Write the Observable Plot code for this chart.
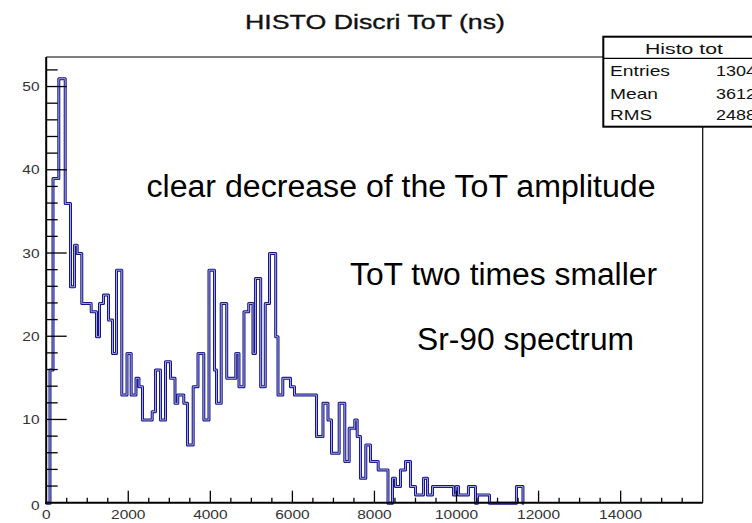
<!DOCTYPE html>
<html><head><meta charset="utf-8">
<script src="https://cdn.jsdelivr.net/npm/d3@7"></script>
<script src="https://cdn.jsdelivr.net/npm/@observablehq/plot@0.6"></script>
<style>
html,body{margin:0;padding:0;background:#fff;overflow:hidden;}
svg text{font-family:"Liberation Sans",Arial,Helvetica,sans-serif;}
</style></head><body><div id="chart"></div>
<script>
// histogram steps: left edge (ns) and count of each step
const binEdges = [80,154,295,451,580,677,743,855,1084,1214,1287,1384,1506,1604,1701,1830,1957,2059,2176,2249,2335,2571,2651,2773,2895,3017,3127,3195,3341,3431,3570,3687,3829,3955,4089,4138,4253,4387,4608,4686,4808,4923,5027,5088,5215,5327,5430,5581,5637,5754,5942,6039,6575,6733,6855,6941,7128,7265,7372,7508,7567,7647,7777,7891,8079,8318,8427,8500,8622,8744,8866,8988,9183,9280,9402,9914,9975,10036,10279,10450,10498,10791,11449,11607];
const binCounts = [16,39,51,36,26,31,30,24,23,20,24,25,22,18,28,13,18,13,15,14,10,11,16,10,17,15,12,13,12,7,14,18,10,28,16,12,24,15,18,14,23,24,18,27,14,24,30,20,13,15,14,13,8,12,10,6,12,5,9,10,8,3,7,5,4,0,3,2,4,5,2,1,3,1,2,1,2,1,2,0,1,0,2,0];

const xMajorTicks = [0,2000,4000,6000,8000,10000,12000,14000,16000];
const xTickLabels = ["0","2000","4000","6000","8000","10000","12000","14000",""];
const yMajorTicks = [0,10,20,30,40,50];
const yTickLabels = ["0","10","20","30","40","50"];
const xDomain = [0,16000];
const yDomain = [0,53.55];

const titleText = "HISTO Discri ToT (ns)";
const statsHeader = "Histo tot";
const statsNames = ["Entries","Mean","RMS"];
const statsValues = ["1304","3612","2488"];
const notes = ["clear decrease of the ToT amplitude","ToT two times smaller","Sr-90 spectrum"];

const pts = [{x:0,y:0}];
binEdges.forEach((e,i)=>pts.push({x:e,y:binCounts[i]}));

const W=752,H=523;
const chart = Plot.plot({
  width:W, height:H,
  marginLeft:46.2, marginRight:49.3, marginTop:57, marginBottom:20.3,
  x:{domain:xDomain, axis:null},
  y:{domain:yDomain, axis:null},
  style:{background:"white", overflow:"hidden"},
  marks:[
    Plot.line(pts,{x:"x",y:"y",curve:"step-after",stroke:"#15158a",strokeWidth:3}),
    Plot.line(pts,{x:"x",y:"y",curve:"step-after",stroke:"#b8b8e6",strokeWidth:0.9})
  ]
});
document.getElementById("chart").appendChild(chart);

const svg = d3.select(chart);
const xs = chart.scale("x"), ys = chart.scale("y");
const X = v=>xs.apply(v), Y = v=>ys.apply(v);
const x0=X(xDomain[0]), x1=X(xDomain[1]), y0=Y(0), yT=Y(yDomain[1]);

const g = svg.append("g");
// x ticks
for(let v=500; v<16000; v+=500){
  const major = v%2000===0;
  g.append("line").attr("x1",X(v)).attr("x2",X(v)).attr("y1",y0).attr("y2",y0-(major?12:5))
   .attr("stroke","#000").attr("stroke-width",1.3);
}
// y ticks
for(let v=2; v<=52; v+=2){
  const major = v%10===0;
  g.append("line").attr("x1",x0).attr("x2",x0+(major?20.5:11.5)).attr("y1",Y(v)).attr("y2",Y(v))
   .attr("stroke","#000").attr("stroke-width",1.3);
}
// frame
g.append("line").attr("x1",x0).attr("x2",x1).attr("y1",yT).attr("y2",yT).attr("stroke","#000").attr("stroke-width",1.2);
g.append("line").attr("x1",x1).attr("x2",x1).attr("y1",yT).attr("y2",y0).attr("stroke","#000").attr("stroke-width",1.2);
g.append("line").attr("x1",x0).attr("x2",x0).attr("y1",yT).attr("y2",y0+1).attr("stroke","#000").attr("stroke-width",2);
g.append("line").attr("x1",x0-1).attr("x2",x1).attr("y1",y0).attr("y2",y0).attr("stroke","#000").attr("stroke-width",2);

const tl = s => s.length*8.6;
// x labels
xMajorTicks.forEach((v,i)=>{
  const s=xTickLabels[i]; if(!s) return;
  g.append("text").attr("x",X(v)).attr("y",y0+16.5).attr("text-anchor","middle")
   .attr("font-size",12.5).attr("fill","#333").attr("textLength",tl(s)).attr("lengthAdjust","spacingAndGlyphs").text(s);
});
// y labels
yMajorTicks.forEach((v,i)=>{
  const s=yTickLabels[i];
  g.append("text").attr("x",39.5).attr("y",Y(v)+(v===0?7:4.5)).attr("text-anchor","end")
   .attr("font-size",12.5).attr("fill","#333").attr("textLength",tl(s)).attr("lengthAdjust","spacingAndGlyphs").text(s);
});

// title
svg.append("text").attr("x",375).attr("y",29).attr("text-anchor","middle").attr("font-size",21)
  .attr("fill","#111").attr("stroke","#111").attr("stroke-width",0.35)
  .attr("textLength",260).attr("lengthAdjust","spacingAndGlyphs").text(titleText);

// annotations
const notePos = [[146.5,197,509],[350,285,307],[417,350,217]];
notes.forEach((s,i)=>{
  const [x,y,w]=notePos[i];
  svg.append("text").attr("x",x).attr("y",y).attr("text-anchor","start").attr("font-size",31).attr("fill","#000")
   .attr("textLength",w).attr("lengthAdjust","spacingAndGlyphs").text(s);
});

// stats box
const sb = svg.append("g");
sb.append("rect").attr("x",603.3).attr("y",36.7).attr("width",200).attr("height",90)
  .attr("fill","#fff").attr("stroke","#000").attr("stroke-width",2);
sb.append("line").attr("x1",603.3).attr("x2",760).attr("y1",58.3).attr("y2",58.3).attr("stroke","#000").attr("stroke-width",1.3);
sb.append("text").attr("x",645).attr("y",54).attr("text-anchor","start").attr("font-size",15).attr("fill","#111")
  .attr("textLength",78).attr("lengthAdjust","spacingAndGlyphs").text(statsHeader);
const rowY=[76,98.5,120], nameW=[60,48,42];
statsNames.forEach((s,i)=>{
  sb.append("text").attr("x",610).attr("y",rowY[i]).attr("text-anchor","start").attr("font-size",15).attr("fill","#111")
    .attr("textLength",nameW[i]).attr("lengthAdjust","spacingAndGlyphs").text(s);
  sb.append("text").attr("x",716).attr("y",rowY[i]).attr("text-anchor","start").attr("font-size",15).attr("fill","#111")
    .attr("textLength",40).attr("lengthAdjust","spacingAndGlyphs").text(statsValues[i]);
});
</script></body></html>
